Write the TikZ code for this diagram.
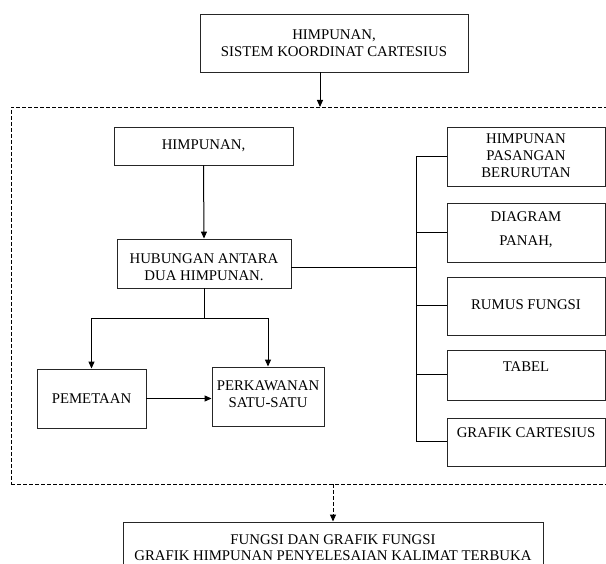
\documentclass[tikz,border=0pt]{standalone}
\usepackage{fontspec}
\setmainfont{Liberation Serif}
\usetikzlibrary{arrows.meta}
\begin{document}
\begin{tikzpicture}[x=1pt,y=-1pt,
  box/.style={draw=black!85, line width=0.9pt, inner sep=0pt, align=center,
    font=\fontsize{14.8}{17}\selectfont},
  txt/.style={inner sep=0pt, align=center, font=\fontsize{14.8}{17}\selectfont},
  conn/.style={draw, line width=1pt},
  arr/.style={conn, -{Triangle[length=7pt,width=6pt]}},
  frame/.style={draw, line width=0.8pt, dash pattern=on 4pt off 2pt}]
\clip (0,0) rectangle (606,564);
\useasboundingbox (0,0) rectangle (606,564);

% outer dashed frame (runs past the right edge)
\node[frame, minimum width=629pt, minimum height=377pt, inner sep=0pt] (frame) at (325.5,295.5) {};

% top box
\node[box, minimum width=268pt, minimum height=58pt] (top) at (334,43) {HIMPUNAN,\\SISTEM KOORDINAT CARTESIUS};
\coordinate (topin) at (320,107);
\draw[arr] (top.south -| topin) -- (topin);

% left column
\node[box, minimum width=179pt, minimum height=38pt] (him) at (203.5,146) {HIMPUNAN,};
\node[box, minimum width=174pt, minimum height=49pt] (hub) at (204,263.5) {};
\node[txt] at (204,267) {HUBUNGAN ANTARA\\DUA HIMPUNAN.};
\draw[arr] (him.south) -- (hub.north);

\node[box, minimum width=109pt, minimum height=59pt] (pem) at (91.5,398.5) {PEMETAAN};
\node[box, minimum width=112pt, minimum height=59pt] (perk) at (268,396.5) {};
\node[txt] at (268,394) {PERKAWANAN\\SATU-SATU};
\coordinate (split) at (204,319);
\draw[conn] (hub.south) -- (split);
\draw[arr] (split) -| (pem.north);
\draw[arr] (split) -| (perk.north);
\draw[arr] (pem.east) -- (pem.east -| perk.west);

% right column
\node[box, minimum width=158pt, minimum height=59pt] (r1) at (526,156.5) {};
\node[txt] at (526,156) {HIMPUNAN\\PASANGAN\\BERURUTAN};
\node[box, minimum width=158pt, minimum height=59pt] (r2) at (526,232.5) {};
\node[txt, font=\fontsize{14.8}{24}\selectfont] at (526,230) {DIAGRAM\\PANAH,};
\node[box, minimum width=158pt, minimum height=58pt] (r3) at (526,306) {};
\node[txt] at (526,305) {RUMUS FUNGSI};
\node[box, minimum width=158pt, minimum height=50pt] (r4) at (526,375) {};
\node[txt] at (526,367) {TABEL};
\node[box, minimum width=158pt, minimum height=48pt] (r5) at (526,442) {};
\node[txt] at (526,433) {GRAFIK CARTESIUS};

\coordinate (bus) at (416,0);
\draw[conn] ([yshift=-4pt]hub.east) -- ([yshift=-4pt]hub.east -| bus);
\draw[conn] (r1.west -| bus) -- (r5.west -| bus);
\foreach \r in {r1,r2,r3,r4,r5}
  \draw[conn] (\r.west -| bus) -- (\r.west);

% bottom box
\node[box, minimum width=420pt, minimum height=64pt] (bot) at (333,554) {};
\node[txt, font=\fontsize{14.8}{16}\selectfont] at (333,548) {FUNGSI DAN GRAFIK FUNGSI\\GRAFIK HIMPUNAN PENYELESAIAN KALIMAT TERBUKA};
\draw[arr, dash pattern=on 4pt off 2pt] (frame.south -| bot.north) -- (bot.north);
\end{tikzpicture}
\end{document}
